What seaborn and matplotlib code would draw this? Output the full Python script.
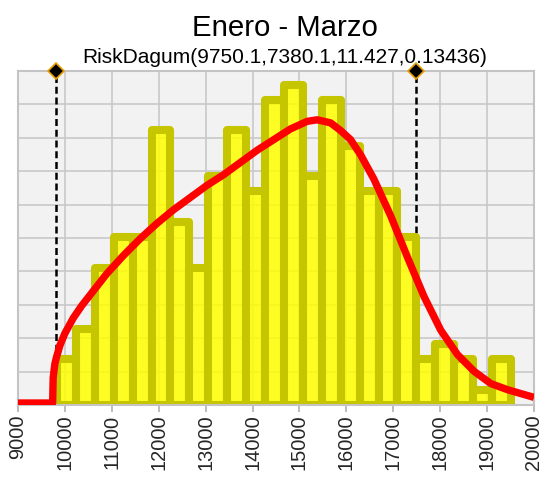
import matplotlib
matplotlib.use("Agg")
import matplotlib.pyplot as plt
import numpy as np
import seaborn as sns

# histogram (counts per bin)
bin_edges = [9830, 10233, 10637, 11040, 11443, 11847, 12250, 12653, 13057,
             13460, 13863, 14267, 14670, 15073, 15477, 15880, 16283, 16687,
             17090, 17493, 17897, 18300, 18703, 19107, 19510]
counts = [3, 5, 9, 11, 11, 18, 12, 9, 15, 18, 14, 20, 21, 15, 20, 17, 14, 14,
          11, 3, 4, 3, 1, 3]

# fitted Dagum density (same count scale)
fit_x = [9000, 9738, 9750, 9786, 9822, 9893, 10000, 10178, 10356, 10534,
         10890, 11247, 11603, 11959, 12315, 12671, 13027, 13383, 13740,
         14096, 14452, 14808, 15164, 15378, 15663, 15876, 16090, 16304,
         16589, 16945, 17301, 17657, 18013, 18370, 18726, 19082, 19438,
         20000]
fit_y = [0.13, 0.13, 1.8, 2.7, 3.15, 3.9, 4.7, 5.7, 6.5, 7.2, 8.6, 9.8,
         10.9, 11.9, 12.8, 13.6, 14.4, 15.1, 15.9, 16.7, 17.4, 18.1, 18.6,
         18.7, 18.5, 18.0, 17.4, 16.4, 14.8, 12.4, 9.7, 7.1, 4.9, 3.3, 2.2,
         1.4, 1.0, 0.5]

# 5% / 95% markers
cutoffs = [9810, 17480]

title = "Enero - Marzo"
subtitle = "RiskDagum(9750.1,7380.1,11.427,0.13436)"
x_ticks = [9000, 10000, 11000, 12000, 13000, 14000, 15000, 16000, 17000,
           18000, 19000, 20000]

sns.set_theme(style="whitegrid", rc={
    "axes.facecolor": "#f2f2f2",
    "axes.edgecolor": "#c4c4c4",
    "grid.color": "#c8c8c8",
    "grid.linewidth": 1.2,
})
plt.rcParams["font.family"] = ["Liberation Sans", "DejaVu Sans"]

fig = plt.figure(figsize=(5.47, 4.8), dpi=100)
ax = fig.add_axes([18 / 547, 75 / 480, 516 / 547, 334 / 480])

centers = [(a + b) / 2 for a, b in zip(bin_edges[:-1], bin_edges[1:])]

for c in cutoffs:
    ax.axvline(c, color="black", linestyle=(0, (2.8, 1.5)), linewidth=1.8, zorder=1)

sns.histplot(x=centers, weights=counts, bins=bin_edges, ax=ax,
             color="#ffff00", edgecolor="#c5c500", linewidth=5.8,
             alpha=0.85, joinstyle="round", zorder=2)

sns.lineplot(x=fit_x, y=fit_y, ax=ax, color="#ff0000", linewidth=5.3,
             solid_capstyle="butt", solid_joinstyle="round", zorder=3,
             estimator=None, sort=False)

ymax = 21.9
ax.plot(cutoffs, [ymax, ymax], linestyle="none", marker="D", markersize=8,
        markerfacecolor="black", markeredgecolor="#e8a000",
        markeredgewidth=1.2, clip_on=False, zorder=5)

ax.set_xlim(9000, 20000)
ax.set_ylim(0, ymax)
ax.set_xticks(x_ticks)
ax.set_xticklabels([str(t) for t in x_ticks], rotation=90, fontsize=14.4)
ax.set_yticks(np.linspace(0, ymax, 11))
ax.set_yticklabels([])
ax.tick_params(axis="x", length=5, width=1.2, color="#b0b0b0", pad=2,
               bottom=True)
ax.tick_params(axis="y", length=0)
ax.set_xlabel("")
ax.set_ylabel("")
ax.grid(True, zorder=0)
ax.set_axisbelow(True)
for s in ax.spines.values():
    s.set_linewidth(1.5)
    s.set_color("#c4c4c4")

fig.text(284.5 / 547, 1 - 36 / 480, title, ha="center", va="baseline",
         fontsize=21.2, color="black")
fig.text(284.5 / 547, 1 - 63 / 480, subtitle, ha="center", va="baseline",
         fontsize=15, color="black")

fig.savefig("out.png", dpi=100)
